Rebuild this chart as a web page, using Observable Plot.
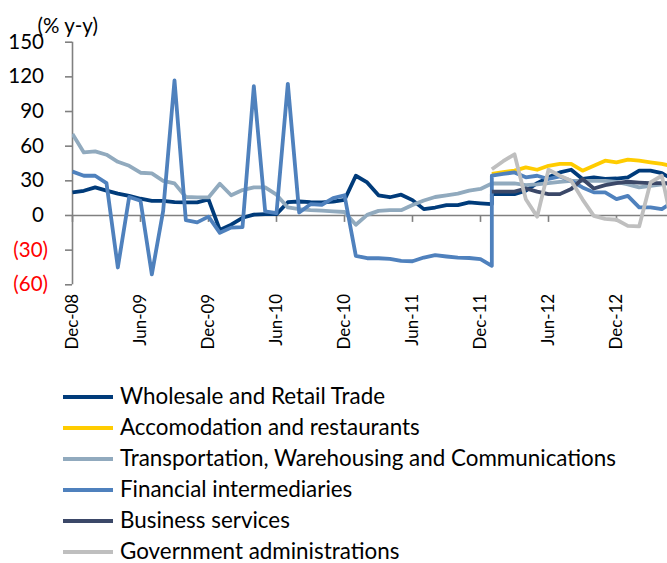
<!DOCTYPE html>
<html><head><meta charset="utf-8">
<script src="https://cdn.jsdelivr.net/npm/d3@7"></script>
<script src="https://cdn.jsdelivr.net/npm/@observablehq/plot@0.6"></script>
<style>
body{margin:0;background:#fff;overflow:hidden;font-family:Lato,sans-serif;}
#wrap{position:relative;width:667px;height:563px;overflow:hidden;}
#legend{position:absolute;left:0;top:381px;}
.row{display:flex;align-items:center;height:31px;}
.sw{margin-left:63px;width:50px;height:4px;margin-right:7px;flex:none;}
.lab{font-size:22.4px;color:#000;white-space:nowrap;line-height:0.92;}
</style></head>
<body><div id="wrap"><div id="chart"></div><div id="legend"></div></div>
<script>
// x: month index, 0 = Dec-08
const tickMonths = [0, 6, 12, 18, 24, 30, 36, 42, 48];
const tickLabels = ["Dec-08", "Jun-09", "Dec-09", "Jun-10", "Dec-10", "Jun-11", "Dec-11", "Jun-12", "Dec-12"];
const yTicks = [-60, -30, 0, 30, 60, 90, 120, 150];
const yUnit = "(% y-y)";

const seriesNames = ["Wholesale and Retail Trade", "Accomodation and restaurants", "Transportation, Warehousing and Communications", "Financial intermediaries", "Business services", "Government administrations"];
const seriesColors = ["#003b7a", "#ffcc00", "#91aabe", "#4f81bd", "#3b4868", "#bfbfbf"];

// old-basis series: Dec-08 .. Jan-12 (months 0..37)
const oldStart = 0;
const wholesaleOld = [20, 21.4, 24.3, 21.5, 19, 17, 14.5, 12.7, 12.7, 11.5, 11.3, 11.3, 14, -12.5, -8, -2, 0.8, 1.2, 1.2, 11.5, 12.1, 11.5, 11.3, 12, 13.5, 34.4, 28.6, 17.5, 15.8, 18, 13.3, 5.5, 6.9, 9, 9, 11.3, 10.5, 9.8];
const transportOld = [70.5, 54.6, 55.5, 52.6, 46.5, 43, 37, 36.4, 30, 27.8, 16, 15.6, 15.6, 27.5, 17.5, 22, 24.3, 24.3, 18, 7, 5.5, 4.7, 4.2, 3.6, 3, -8, 0.5, 4, 4.6, 4.6, 9, 13, 16, 17.5, 19, 21.5, 23, 27.7];
const financialOld = [38, 34.4, 34.4, 28, -45, 16, 12.7, -51, 4, 117, -4, -6, -1, -15, -10.5, -10, 112, 3.5, 2, 114, 2.6, 9.8, 9.3, 15, 17.5, -35, -37, -37, -37.5, -39.3, -39.6, -36.4, -34.4, -35.5, -36.4, -36.8, -37.8, -43.6];

// new-basis series: Jan-12 .. May-13 (months 37..53)
const newStart = 37;
const wholesaleNew = [18.5, 18.5, 18.5, 21.4, 28, 33, 37.3, 39.6, 31.6, 33, 31.6, 32, 33, 38.8, 38.8, 36.7, 31];
const accomNew = [36, 37.5, 38.8, 41.6, 39.6, 43, 44.6, 44.6, 38.8, 43, 47.4, 46, 48.3, 47.4, 46, 44.6, 42.5];
const transportNew = [27.7, 27.7, 27.7, 26.3, 27, 28, 29, 30, 30, 30, 30, 29, 27, 24.3, 25.7, 27, 28];
const financialNew = [34.4, 36, 37.3, 33, 34.4, 31.6, 33.8, 30, 24.3, 20, 20, 14.2, 17, 7, 7, 5.5, 12];
const businessNew = [20.6, 20.6, 20.6, 23.4, 20.6, 18.5, 18.5, 22.9, 31.6, 23.4, 26.3, 28, 29.2, 28.5, 28, 28, 28];
const govNew = [40, 47, 53, 14, -1, 39.6, 34.4, 30, 14, -0.3, -3, -3.7, -9, -9.5, 28.6, 34.4, -12];

// each series: [name, old-basis values (or null), new-basis values]; old and new join at Jan-12
const seriesData = [
  [seriesNames[0], wholesaleOld, wholesaleNew],
  [seriesNames[1], null, accomNew],
  [seriesNames[2], transportOld, transportNew],
  [seriesNames[3], financialOld, financialNew],
  [seriesNames[4], null, businessNew],
  [seriesNames[5], null, govNew]
];
const rows = [];
for (const [series, oldVals, newVals] of seriesData) {
  if (oldVals) oldVals.forEach((v, i) => rows.push({series, month: oldStart + i, value: v}));
  newVals.forEach((v, i) => rows.push({series, month: newStart + i, value: v}));
}

const axisGrey = "#808080";
const chart = Plot.plot({
  width: 667,
  height: 370,
  marginLeft: 72,
  marginRight: 0,
  marginTop: 41.7,
  marginBottom: 85.7,
  style: {fontFamily: "Lato, sans-serif", background: "#fff"},
  x: {domain: [0, 52.5], axis: null},
  y: {domain: [-60, 150], axis: null},
  color: {domain: seriesNames, range: seriesColors},
  marks: [
    Plot.ruleY([0], {stroke: axisGrey, strokeWidth: 1.6}),
    Plot.ruleX(tickMonths, {x: d => d, y1: 0, y2: -6, stroke: axisGrey, strokeWidth: 1.6}),
    Plot.ruleX([0], {y1: -60, y2: 150, stroke: axisGrey, strokeWidth: 1.6}),
    Plot.axisY(yTicks, {tickSize: 7, tickFormat: () => "", label: null, stroke: axisGrey, strokeWidth: 1.6}),
    Plot.text(yTicks.filter(d => d >= 0), {y: d => d, text: d => String(d), frameAnchor: "left", textAnchor: "end", dx: -28.5, fontSize: 20.5, fill: "#000"}),
    Plot.text(yTicks.filter(d => d < 0), {y: d => d, text: d => `(${-d})`, frameAnchor: "left", textAnchor: "end", dx: -24.5, fontSize: 20.5, fill: "#ff0000"}),
    Plot.text([yUnit], {frameAnchor: "top-left", text: d => d, textAnchor: "start", dx: -35, dy: -24, fontSize: 20.5, fill: "#000"}),
    Plot.text(tickMonths, {x: d => d, text: (d, i) => tickLabels[i], frameAnchor: "bottom", rotate: -90, textAnchor: "end", lineAnchor: "middle", dy: 9, fontSize: 17, fill: "#000"}),
    Plot.line(rows, {x: "month", y: "value", z: "series", stroke: "series", strokeWidth: 3.8, strokeLinejoin: "round", strokeLinecap: "butt", clip: true})
  ]
});
document.getElementById("chart").appendChild(chart);

const legend = document.getElementById("legend");
seriesNames.forEach((name, i) => {
  const row = document.createElement("div");
  row.className = "row";
  const sw = document.createElement("div");
  sw.className = "sw";
  sw.style.background = seriesColors[i];
  const lab = document.createElement("div");
  lab.className = "lab";
  lab.textContent = name;
  row.appendChild(sw);
  row.appendChild(lab);
  legend.appendChild(row);
});
</script>
</body></html>
